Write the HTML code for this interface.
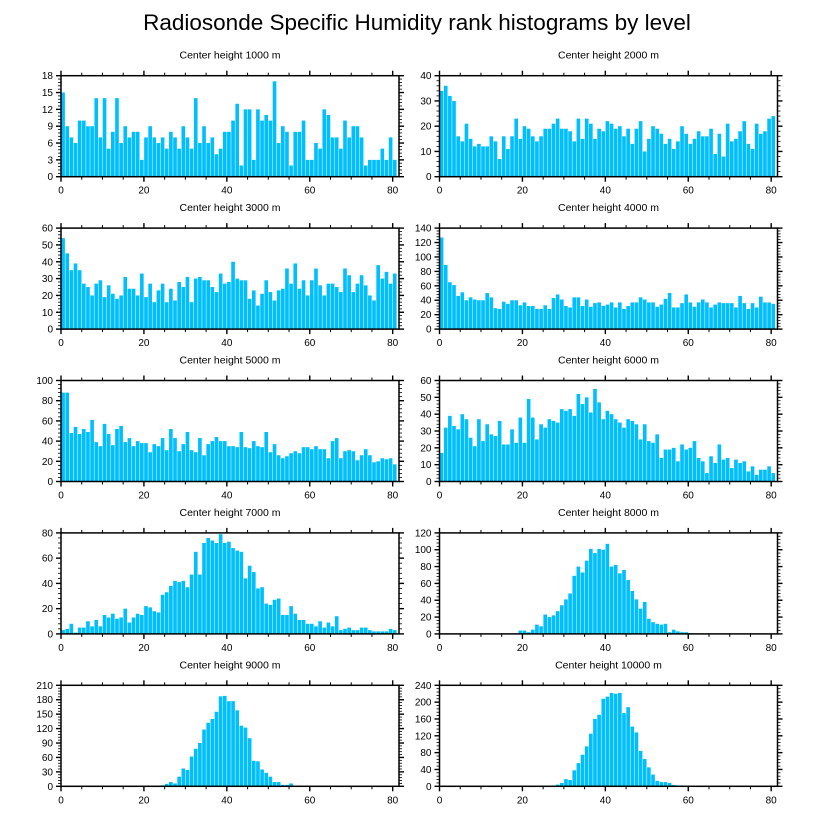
<!DOCTYPE html>
<html><head><meta charset="utf-8">
<style>
html,body{margin:0;padding:0;background:#fff;}
svg{display:block;font-family:"Liberation Sans",sans-serif;}
</style></head>
<body>
<svg id="chart" width="816" height="824" viewBox="0 0 816 824" xmlns="http://www.w3.org/2000/svg">
<text x="417" y="30" text-anchor="middle" font-size="22.5">Radiosonde Specific Humidity rank histograms by level</text>
</svg>
<script>
const panelTitles = ["Center height 1000 m","Center height 2000 m","Center height 3000 m","Center height 4000 m","Center height 5000 m","Center height 6000 m","Center height 7000 m","Center height 8000 m","Center height 9000 m","Center height 10000 m"];
const yMax = [18,40,60,140,100,60,80,120,210,240];
const yStep = [3,10,10,20,20,10,20,20,30,40];
const xTicks = [0,20,40,60,80];
const h1000 = [15,9,7,6,10,10,9,9,14,7,14,5,8,14,6,9,7,8,8,3,7,9,7,6,7,5,8,7,5,9,7,5,14,6,9,6,7,4,5,8,8,10,13,2,12,12,3,12,10,11,10,17,6,9,8,2,8,8,10,3,3,6,5,12,11,7,7,5,10,7,9,9,7,2,3,3,3,5,3,7,3];
const h2000 = [34,36,32,30,16,14,21,15,12,13,12,12,16,14,7,16,11,16,23,15,20,19,16,14,16,19,19,21,23,19,19,18,14,23,15,23,21,15,19,18,22,21,19,20,16,19,13,19,22,10,15,20,19,17,13,15,11,14,20,17,13,15,18,16,16,19,9,17,8,21,14,15,18,22,13,11,21,17,18,23,24];
const h3000 = [54,45,35,39,35,27,25,20,27,29,19,26,21,18,20,31,24,24,20,33,19,27,16,23,27,16,24,17,28,25,31,16,30,31,29,29,25,22,33,27,28,40,30,29,29,18,23,14,21,29,22,17,23,24,36,27,39,24,29,20,29,36,26,20,27,27,25,22,36,32,22,27,32,26,20,17,38,30,34,27,33];
const h4000 = [127,89,65,61,46,51,40,44,41,40,40,50,44,29,28,38,35,40,40,33,37,32,32,28,28,33,28,43,48,41,32,30,44,44,32,41,31,36,37,32,34,37,30,37,28,32,37,37,44,41,37,37,31,34,42,50,30,30,36,48,37,31,37,41,37,30,34,37,36,36,36,30,46,36,28,36,30,45,37,37,35];
const h5000 = [88,88,48,54,47,52,49,61,39,35,57,47,36,52,55,39,43,35,40,38,38,29,37,35,43,31,52,43,30,37,49,31,29,43,26,37,40,44,40,40,35,35,34,49,34,33,40,35,34,49,29,37,26,23,25,28,30,28,34,34,32,35,32,32,23,40,43,23,30,31,30,21,26,32,26,19,20,23,22,23,17];
const h6000 = [17,32,39,33,31,40,37,26,21,37,24,34,28,27,36,22,22,31,23,38,23,49,38,25,34,32,37,36,35,43,42,43,39,52,46,50,41,55,47,37,42,40,37,35,32,37,36,34,25,34,24,23,28,14,19,19,20,12,22,19,20,24,14,12,5,15,11,22,13,14,8,13,11,12,6,9,4,7,7,9,5];
const h7000 = [3,4,8,1,5,5,10,6,11,6,15,13,16,12,13,20,9,13,16,15,22,21,18,17,31,33,38,42,41,42,37,47,65,47,72,76,74,72,79,72,73,68,66,65,44,54,49,36,37,24,23,27,28,15,15,22,16,11,11,8,8,6,10,5,9,6,14,3,4,5,3,3,5,5,3,2,2,2,2,4,3];
const h8000 = [0,0,0,0,0,0,0,0,0,0,0,0,0,0,0,0,0,0,0,4,4,2,5,11,9,23,20,22,27,34,41,48,69,80,73,87,101,96,101,100,107,80,82,72,76,64,51,41,30,38,18,14,12,11,12,2,5,3,2,2,1,0,0,0,0,0,0,0,0,0,0,0,0,0,0,0,0,0,0,0,0];
const h9000 = [0,0,0,0,0,0,0,0,0,0,0,0,0,0,0,0,0,0,0,0,0,0,0,0,2,5,9,6,20,37,34,62,78,90,118,132,140,155,187,188,177,177,158,126,122,100,53,52,35,28,20,9,9,3,3,6,1,1,0,1,1,0,0,0,0,0,0,0,0,0,0,0,0,0,0,0,0,0,0,0,0];
const h10000 = [0,0,0,0,0,0,0,0,0,0,0,0,0,0,0,0,0,0,0,0,0,0,1,1,0,0,0,2,4,8,17,15,38,55,75,95,125,160,170,208,213,222,220,222,174,188,142,128,84,65,45,28,13,10,10,8,3,2,2,0,0,0,0,0,0,0,0,0,0,0,0,0,0,0,0,0,0];
const series = [h1000,h2000,h3000,h4000,h5000,h6000,h7000,h8000,h9000,h10000];

const NS = "http://www.w3.org/2000/svg";
const svg = document.getElementById('chart');
function mk(tag, attrs, parent){
  const e = document.createElementNS(NS, tag);
  for (const k in attrs) e.setAttribute(k, attrs[k]);
  parent.appendChild(e);
  return e;
}
const PW = 338, PH = 101, UNIT = 4.146;
const lefts = [61, 439.5];
for (let p = 0; p < 10; p++) {
  const col = p % 2, row = Math.floor(p / 2);
  const x0 = lefts[col], top = 75.7 + row * 152.4, bot = top + PH;
  const g = mk('g', {}, svg);
  
  
  const xs = v => x0 + v * UNIT;
  const ys = v => bot - v / yMax[p] * PH;
  const t = mk('text', {x: x0 + 169, y: top - 17, 'text-anchor': 'middle', 'font-size': 10.5}, g);
  t.textContent = panelTitles[p];
  
  
  const data = series[p];
  for (let i = 0; i < data.length; i++) {
    const v = Math.min(data[i], yMax[p]);
    if (v <= 0) continue;
    const r = mk('rect', {x: xs(i) + 0.25, y: ys(v), width: UNIT - 0.5, height: bot - ys(v), fill: '#00BFFF'}, g);
    
    
  }
  for (let v = 0; v <= 80; v += 5) {
    const major = v % 20 === 0, len = major ? 5 : 3;
    mk('line', {x1: xs(v), x2: xs(v), y1: bot, y2: bot + len, stroke: '#000', 'stroke-width': major ? 1.4 : 1}, g);
    mk('line', {x1: xs(v), x2: xs(v), y1: top, y2: top - len, stroke: '#000', 'stroke-width': major ? 1.4 : 1}, g);
  }
  for (const v of xTicks) {
    const l = mk('text', {x: xs(v), y: bot + 17, 'text-anchor': 'middle', 'font-size': 10}, g);
    l.textContent = v;
    
    
  }
  const minor = yStep[p] / 5;
  for (let k = 0; k <= Math.round(yMax[p] / minor); k++) {
    const v = k * minor, y = ys(v);
    const major = k % 5 === 0, len = major ? 5 : 3;
    mk('line', {x1: x0, x2: x0 - len, y1: y, y2: y, stroke: '#000', 'stroke-width': major ? 1.4 : 0.8}, g);
    mk('line', {x1: x0 + PW, x2: x0 + PW + len, y1: y, y2: y, stroke: '#000', 'stroke-width': major ? 1.4 : 0.8}, g);
  }
  for (let v = 0; v <= yMax[p]; v += yStep[p]) {
    const l = mk('text', {x: x0 - 8, y: ys(v) + 3.5, 'text-anchor': 'end', 'font-size': 10}, g);
    l.textContent = v;
    
    
  }
  const f = mk('rect', {x: x0, y: top, width: PW, height: PH, fill: 'none', stroke: '#000', 'stroke-width': 1.5}, g);
  
  
}
</script>
</body></html>
